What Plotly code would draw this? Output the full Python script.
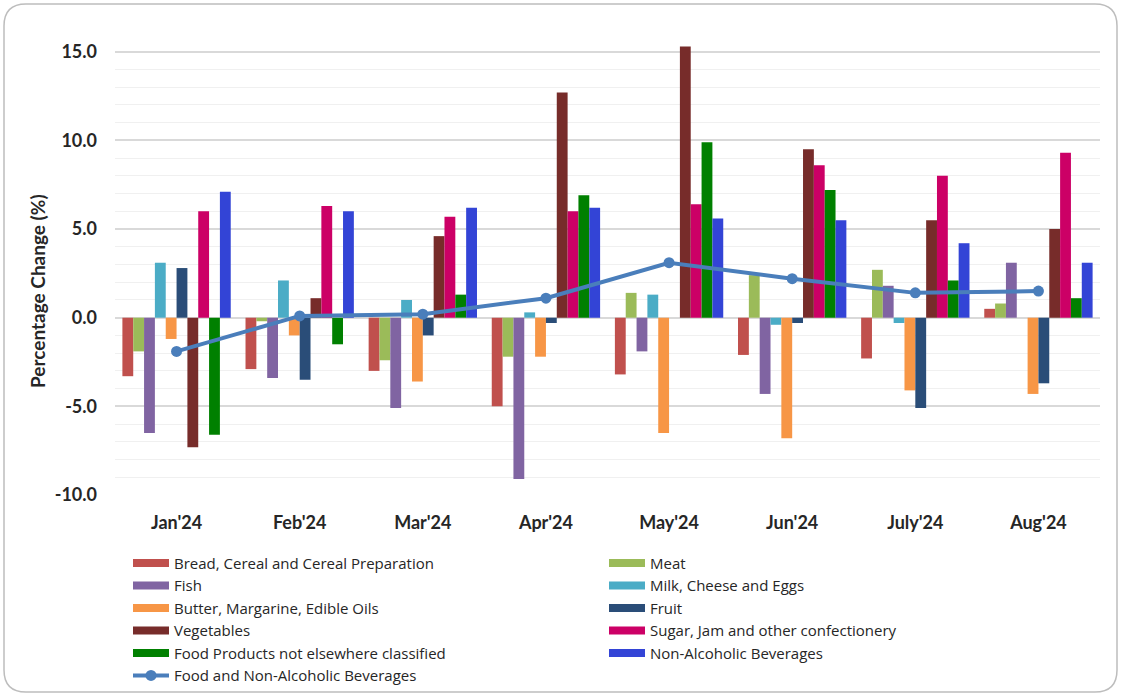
import plotly.graph_objects as go

months = ["Jan'24", "Feb'24", "Mar'24", "Apr'24", "May'24", "Jun'24", "July'24", "Aug'24"]

bread = [-3.3, -2.9, -3.0, -5.0, -3.2, -2.1, -2.3, 0.5]
meat = [-1.9, -0.2, -2.4, -2.2, 1.4, 2.4, 2.7, 0.8]
fish = [-6.5, -3.4, -5.1, -9.1, -1.9, -4.3, 1.8, 3.1]
milk = [3.1, 2.1, 1.0, 0.3, 1.3, -0.4, -0.3, 0.0]
butter = [-1.2, -1.0, -3.6, -2.2, -6.5, -6.8, -4.1, -4.3]
fruit = [2.8, -3.5, -1.0, -0.3, 0.0, -0.3, -5.1, -3.7]
vegetables = [-7.3, 1.1, 4.6, 12.7, 15.3, 9.5, 5.5, 5.0]
sugar = [6.0, 6.3, 5.7, 6.0, 6.4, 8.6, 8.0, 9.3]
food_nec = [-6.6, -1.5, 1.3, 6.9, 9.9, 7.2, 2.1, 1.1]
non_alc = [7.1, 6.0, 6.2, 6.2, 5.6, 5.5, 4.2, 3.1]
food_and_bev = [-1.9, 0.1, 0.2, 1.1, 3.1, 2.2, 1.4, 1.5]

y_ticks = [-10, -5, 0, 5, 10, 15]
y_tick_labels = ["-10.0", "-5.0", "0.0", "5.0", "10.0", "15.0"]

series = [
    ("Bread, Cereal and Cereal Preparation", bread, "#C0504D"),
    ("Meat", meat, "#9BBB59"),
    ("Fish", fish, "#8064A2"),
    ("Milk, Cheese and Eggs", milk, "#4BACC6"),
    ("Butter, Margarine, Edible Oils", butter, "#F79646"),
    ("Fruit", fruit, "#2A4D78"),
    ("Vegetables", vegetables, "#772C2A"),
    ("Sugar, Jam and other confectionery", sugar, "#CC0066"),
    ("Food Products not elsewhere classified", food_nec, "#008000"),
    ("Non-Alcoholic Beverages", non_alc, "#3344D6"),
]

FONT = "Lato, 'Open Sans', sans-serif"
LEGEND_FONT = "'Open Sans', sans-serif"
TEXT = "#262626"

fig = go.Figure()

for name, vals, color in series:
    fig.add_trace(go.Bar(
        x=months, y=vals, name=name, marker_color=color,
        marker_line_width=0, legendgroup=name, showlegend=False,
    ))

fig.add_trace(go.Scatter(
    x=months, y=food_and_bev, name="Food and Non-Alcoholic Beverages",
    mode="lines+markers", line=dict(color="#4A7EBB", width=4),
    marker=dict(size=11, color="#4A7EBB"), showlegend=False,
    legendgroup="line",
))

# legend swatches drawn as wide strokes
for name, vals, color in series:
    fig.add_trace(go.Scatter(
        x=[None], y=[None], mode="lines", name=name,
        line=dict(color=color, width=8), legendgroup=name,
    ))
fig.add_trace(go.Scatter(
    x=[None], y=[None], mode="lines+markers",
    name="Food and Non-Alcoholic Beverages",
    line=dict(color="#4A7EBB", width=4),
    marker=dict(size=11, color="#4A7EBB"), legendgroup="line",
))

W, H = 1121, 696
L, R, T, B = 115, 21, 34, 201
pw, ph = W - L - R, H - T - B


def px(x):
    return (x - L) / pw


def py(y):
    return (H - B - y) / ph


# rounded frame around the whole chart
x0, x1, y0, y1, r = 4, 1117, 4, 692, 22
path = (
    f"M {px(x0 + r)} {py(y0)} L {px(x1 - r)} {py(y0)} "
    f"Q {px(x1)} {py(y0)} {px(x1)} {py(y0 + r)} "
    f"L {px(x1)} {py(y1 - r)} Q {px(x1)} {py(y1)} {px(x1 - r)} {py(y1)} "
    f"L {px(x0 + r)} {py(y1)} Q {px(x0)} {py(y1)} {px(x0)} {py(y1 - r)} "
    f"L {px(x0)} {py(y0 + r)} Q {px(x0)} {py(y0)} {px(x0 + r)} {py(y0)} Z"
)

fig.update_layout(
    width=W, height=H,
    margin=dict(l=L, r=R, t=T, b=B, autoexpand=False),
    paper_bgcolor="white", plot_bgcolor="white",
    barmode="group", bargap=0.12, bargroupgap=0,
    font=dict(family=FONT, color=TEXT),
    shapes=[dict(type="path", path=path, xref="paper", yref="paper",
                 line=dict(color="#BDBDBD", width=1.5), layer="below")],
    annotations=[dict(
        text="Percentage Change (%)", textangle=-90,
        xref="paper", yref="paper", x=px(37), y=py(291),
        xanchor="center", yanchor="middle", showarrow=False,
        font=dict(family=FONT, size=19, color=TEXT, weight="bold"),
    )],
    legend=dict(
        orientation="h", x=px(128), y=-0.112, xanchor="left", yanchor="top",
        entrywidth=425, entrywidthmode="pixels",
        font=dict(family=LEGEND_FONT, size=15, color=TEXT),
        tracegroupgap=0, itemwidth=36, bgcolor="rgba(0,0,0,0)",
    ),
    xaxis=dict(
        showgrid=False, showline=False, zeroline=False,
        tickfont=dict(family=FONT, size=18, color=TEXT, weight="bold"),
        ticklabelstandoff=15,
    ),
    yaxis=dict(
        range=[-10, 16], tickvals=y_ticks, ticktext=y_tick_labels,
        showgrid=True, gridcolor="#D9D9D9", gridwidth=1.5,
        minor=dict(dtick=1, showgrid=True, gridcolor="#F0F0F0", gridwidth=1),
        zeroline=True, zerolinecolor="#D9D9D9", zerolinewidth=1.5,
        showline=False,
        tickfont=dict(family=FONT, size=18, color=TEXT, weight="bold"),
        ticklabelstandoff=17,
    ),
)

fig.write_html("out.html")
